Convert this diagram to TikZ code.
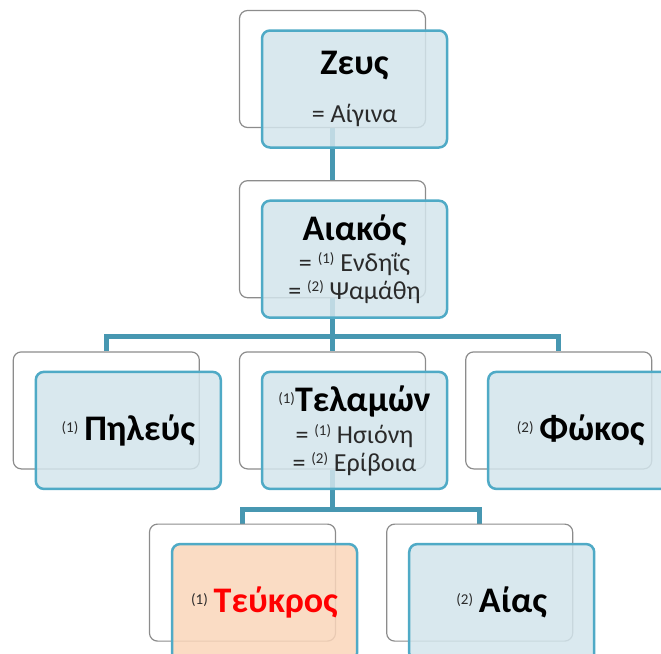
\documentclass[tikz,border=0pt]{standalone}
\usepackage{fontspec}
\setmainfont{Carlito}
\usetikzlibrary{positioning}
\usetikzlibrary{backgrounds}

\definecolor{backline}{HTML}{8C8C8C}
\definecolor{frontline}{HTML}{4FAAC6}
\definecolor{frontfill}{HTML}{D3E5EC}
\definecolor{peachfill}{HTML}{FAD6BA}
\definecolor{linkcol}{HTML}{4797B1}
\definecolor{redtext}{HTML}{FF0000}
\definecolor{wifetext}{HTML}{2A2A2A}

\newcommand{\bignm}{\fontsize{36}{40}\selectfont\bfseries\color{black}}
\newcommand{\wifenm}{\fontsize{26}{28}\selectfont\color{wifetext}}
\newcommand{\marr}[1]{\raisebox{8pt}{\fontsize{15}{15}\selectfont\mdseries(#1)}}

\begin{document}
\begin{tikzpicture}[
        back/.style = {draw=backline, line width=1.2pt, fill=white,
                       rounded corners=8pt,
                       minimum width=186pt, minimum height=117pt},
        front/.style = {draw=frontline, line width=2.5pt, fill=frontfill,
                        fill opacity=0.85, text opacity=1,
                        rounded corners=8pt, inner sep=0pt, align=center,
                        font=\wifenm,
                        minimum width=185pt, minimum height=117pt},
        link/.style = {draw=linkcol, line width=5pt}
        ]
        \useasboundingbox (0,0) rectangle (661pt,-653pt);
        % back cards
        \node[back] (zeusB) at (332.5pt,-69pt) {};
        \node[back] [below = 52pt of zeusB] (aiakB) {};
        \node[back] [below = 53pt of aiakB] (telB) {};
        \node[back] [left = 39pt of telB] (pelB) {};
        \node[back] [right = 39pt of telB] (phokB) {};
        \node[back] [below = 54pt of telB, xshift=-90pt] (teukB) {};
        \node[back] [right = 50pt of teukB] (aiasB) {};
        % front cards
        \node[front] at ([shift={(22pt,-20pt)}]zeusB.center) (zeus)
            {{\bignm Ζευς}\\[20pt]= Αίγινα};
        \node[front] at ([shift={(22pt,-20pt)}]aiakB.center) (aiak)
            {{\bignm Αιακός}\\[3pt]= \marr{1} Ενδηΐς\\= \marr{2} Ψαμάθη};
        \node[front] at ([shift={(22pt,-20pt)}]pelB.center) (pel)
            {\marr{1} {\bignm Πηλεύς}};
        \node[front] at ([shift={(22pt,-20pt)}]telB.center) (tel)
            {\marr{1}{\bignm Τελαμών}\\[4pt]= \marr{1} Ησιόνη\\= \marr{2} Ερίβοια};
        \node[front] at ([shift={(22pt,-20pt)}]phokB.center) (phok)
            {\marr{2} {\bignm Φώκος}};
        \node[front, fill=peachfill] at ([shift={(22pt,-20pt)}]teukB.center) (teuk)
            {\marr{1} {\bignm\color{redtext} Τεύκρος}};
        \node[front] at ([shift={(22pt,-20pt)}]aiasB.center) (aias)
            {\marr{2} {\bignm Αίας}};
        % lines of descent
        \begin{scope}[on background layer]
        \draw[link] (zeusB.south) -- (aiakB.north);
        \draw[link] (aiakB.south) -- (telB.north);
        \draw[link] (aiakB.south) -- ++(0,-38pt) -| (pelB.north);
        \draw[link] (aiakB.south) -- ++(0,-38pt) -| (phokB.north);
        \draw[link] (telB.south) -- ++(0,-40pt) -| (teukB.north);
        \draw[link] (telB.south) -- ++(0,-40pt) -| (aiasB.north);
        \end{scope}
    \end{tikzpicture}
\end{document}
